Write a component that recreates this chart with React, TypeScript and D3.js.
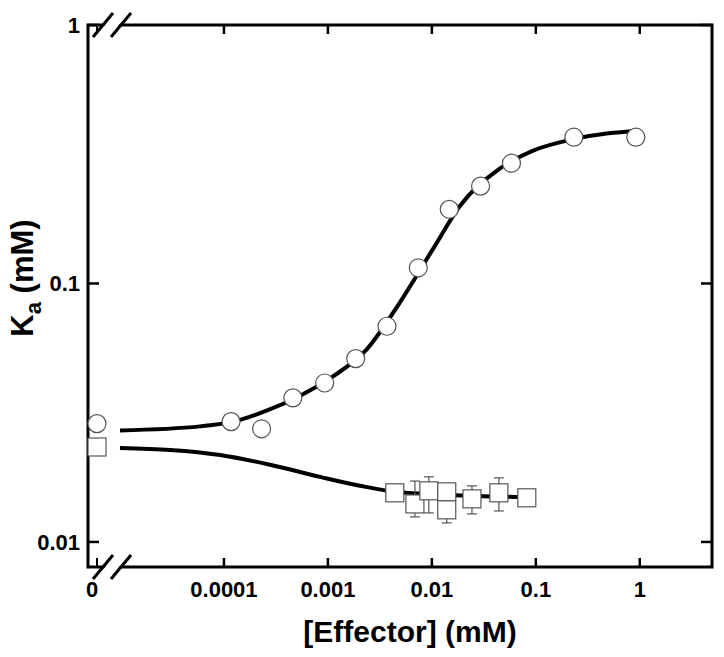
import React from "react";
import * as d3 from "d3";

// ---- data ----
const xTickValues = [1e-4, 1e-3, 1e-2, 0.1, 1];
const xTickLabels = ["0.0001", "0.001", "0.01", "0.1", "1"];
const yTickValues = [0.01, 0.1, 1];
const yTickLabels = ["0.01", "0.1", "1"];

// circles: [effector mM, Ka mM]
const circleEffector = [1.17e-4, 2.3e-4, 4.6e-4, 9.3e-4, 1.85e-3, 3.7e-3, 7.4e-3, 0.0147, 0.0294, 0.0583, 0.232, 0.916];
const circleKa = [0.0292, 0.0274, 0.0361, 0.0412, 0.0512, 0.0683, 0.115, 0.1936, 0.238, 0.292, 0.368, 0.368];
const circleZeroKa = 0.0287;

// squares
const squareEffector = [0.0044, 0.00687, 0.00935, 0.0139, 0.0139, 0.0243, 0.0441, 0.0819];
const squareKa = [0.01549, 0.01403, 0.01577, 0.01563, 0.01331, 0.01468, 0.01549, 0.01482];
const squareErrLow = [null, 0.0125, 0.01295, null, 0.01185, 0.01284, 0.01318, null];
const squareErrHigh = [null, 0.0172, 0.01786, null, null, 0.01648, 0.0177, null];
const squareZeroKa = 0.0233;

// fitted curves
const fitCircleE = [1e-5, 5.9e-5, 1.23e-4, 2.57e-4, 5.4e-4, 1.12e-3, 2.35e-3, 4.9e-3, 1.02e-2, 1.86e-2, 4.4e-2, 9.3e-2, 0.232, 0.5, 0.95];
const fitCircleK = [0.027, 0.028, 0.0292, 0.0322, 0.0368, 0.0437, 0.0555, 0.0842, 0.1355, 0.1995, 0.2766, 0.326, 0.362, 0.381, 0.389];
const fitSquareE = [1e-5, 3.03e-5, 9.2e-5, 2.77e-4, 8.4e-4, 2.03e-3, 4.4e-3, 0.0149, 0.0783];
const fitSquareK = [0.0231, 0.0227, 0.0217, 0.0199, 0.01786, 0.0165, 0.01563, 0.0152, 0.0149];

const W = 724, H = 657;
const L = 88, R = 712, T = 25, B = 567;
const zeroX = 97;
const FONT = "'Liberation Sans', Arial, Helvetica, sans-serif";
const MARK = "#555";

export default function App() {
  const x = d3.scaleLog().domain([1e-5, 4.95]).range([120, R]);
  const y = d3.scaleLog().domain([0.008, 1]).range([B, T]);

  const line = d3
    .line<[number, number]>()
    .x((d) => x(d[0]))
    .y((d) => y(d[1]))
    .curve(d3.curveMonotoneX);

  const circlePath = line(fitCircleE.map((e, i) => [e, fitCircleK[i]]) as [number, number][]) || "";
  const squarePath = line(fitSquareE.map((e, i) => [e, fitSquareK[i]]) as [number, number][]) || "";

  const r = 9;
  const s = 18;

  const breakXs = [103, 121];
  const slash = (cx: number, cy: number) => `M${cx - 10},${cy + 12}L${cx + 10},${cy - 12}`;

  return (
    <svg
      width={W}
      height={H}
      style={{ position: "absolute", left: 0, top: 0, background: "#fff" }}
      fontFamily={FONT}
    >
      <rect x={0} y={0} width={W} height={H} fill="#fff" />
      {/* frame */}
      <rect x={L} y={T} width={R - L} height={B - T} fill="none" stroke="#000" strokeWidth={3} />

      {/* x ticks bottom & top */}
      {xTickValues.map((v, i) => (
        <g key={"xt" + i}>
          <line x1={x(v)} x2={x(v)} y1={B} y2={B - 9} stroke="#000" strokeWidth={2.5} />
          <line x1={x(v)} x2={x(v)} y1={T} y2={T + 9} stroke="#000" strokeWidth={2.5} />
          <text x={x(v)} y={B + 30} textAnchor="middle" fontSize={22} fontWeight="bold">
            {xTickLabels[i]}
          </text>
        </g>
      ))}
      {/* zero tick */}
      <line x1={zeroX} x2={zeroX} y1={B} y2={B - 9} stroke="#000" strokeWidth={2} />
      <line x1={zeroX} x2={zeroX} y1={T} y2={T + 9} stroke="#000" strokeWidth={2} />
      <text x={zeroX - 5} y={B + 30} textAnchor="middle" fontSize={22} fontWeight="bold">0</text>

      {/* y ticks left & right */}
      {yTickValues.map((v, i) => (
        <g key={"yt" + i}>
          <line x1={L} x2={L + 11} y1={y(v)} y2={y(v)} stroke="#000" strokeWidth={2.5} />
          <line x1={R} x2={R - 11} y1={y(v)} y2={y(v)} stroke="#000" strokeWidth={2.5} />
          <text x={L - 8} y={y(v) + 8} textAnchor="end" fontSize={22} fontWeight="bold">
            {yTickLabels[i]}
          </text>
        </g>
      ))}

      {/* axis breaks */}
      {[B, T].map((cy, k) => (
        <g key={"br" + k}>
          <polygon
            points={`${breakXs[0] - 10 + 2},${cy + 12} ${breakXs[0] + 10 + 2},${cy - 12} ${breakXs[1] + 10 - 2},${cy - 12} ${breakXs[1] - 10 - 2},${cy + 12}`}
            fill="#fff"
          />
          {breakXs.map((bx, j) => (
            <path key={j} d={slash(bx, cy)} stroke="#000" strokeWidth={3} fill="none" />
          ))}
        </g>
      ))}

      {/* fitted curves */}
      <path d={circlePath} fill="none" stroke="#000" strokeWidth={4} />
      <path d={squarePath} fill="none" stroke="#000" strokeWidth={4} />

      {/* square error bars */}
      {squareEffector.map((e, i) => {
        const cx = x(e);
        const lo = squareErrLow[i];
        const hi = squareErrHigh[i];
        return (
          <g key={"eb" + i} stroke={MARK} strokeWidth={1.2}>
            {lo != null && (
              <>
                <line x1={cx} x2={cx} y1={y(squareKa[i])} y2={y(lo)} />
                <line x1={cx - 5} x2={cx + 5} y1={y(lo)} y2={y(lo)} />
              </>
            )}
            {hi != null && (
              <>
                <line x1={cx} x2={cx} y1={y(squareKa[i])} y2={y(hi)} />
                <line x1={cx - 5} x2={cx + 5} y1={y(hi)} y2={y(hi)} />
              </>
            )}
          </g>
        );
      })}

      {/* squares */}
      {squareEffector.map((e, i) => (
        <rect
          key={"sq" + i}
          x={x(e) - s / 2}
          y={y(squareKa[i]) - s / 2}
          width={s}
          height={s}
          fill="#fff"
          stroke={MARK}
          strokeWidth={1.2}
        />
      ))}
      <rect x={zeroX - s / 2} y={y(squareZeroKa) - s / 2} width={s} height={s} fill="#fff" stroke={MARK} strokeWidth={1.2} />

      {/* circles */}
      {circleEffector.map((e, i) => (
        <circle key={"c" + i} cx={x(e)} cy={y(circleKa[i])} r={r} fill="#fff" stroke={MARK} strokeWidth={1.2} />
      ))}
      <circle cx={zeroX} cy={y(circleZeroKa)} r={r} fill="#fff" stroke={MARK} strokeWidth={1.2} />

      {/* axis titles */}
      <text x={410} y={642} textAnchor="middle" fontSize={30} fontWeight="bold">
        [Effector] (mM)
      </text>
      <text transform="translate(33,278) rotate(-90)" textAnchor="middle" fontSize={31} fontWeight="bold">
        K
        <tspan fontSize={22} dy={8}>a</tspan>
        <tspan dy={-8}> (mM)</tspan>
      </text>
    </svg>
  );
}
